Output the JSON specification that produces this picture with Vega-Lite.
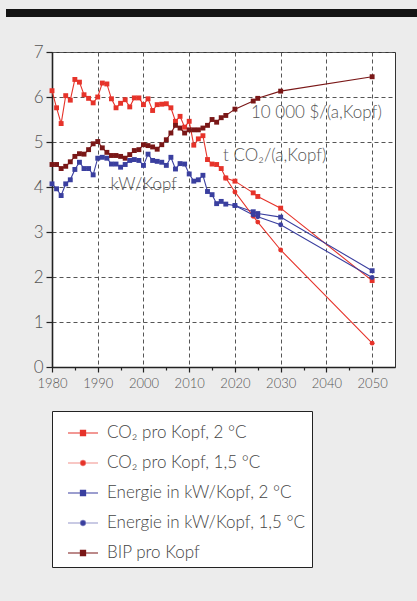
{
  "$schema": "https://vega.github.io/schema/vega-lite/v6.json",
  "background": "#ececec",
  "padding": {"left": 6, "top": 9, "right": 0, "bottom": 33},
  "autosize": {"type": "pad"},
  "spacing": 25,
  "config": {
    "font": "Lato",
    "axis": {"labelFont": "Lato", "labelFontWeight": 300, "labelColor": "#555"},
    "legend": {"labelFont": "Lato"}
  },
  "datasets": {
    "series": [
      {"year": 1980, "co2_2": 6.14, "kw_2": 4.07, "bip": 4.50},
      {"year": 1981, "co2_2": 5.76, "kw_2": 3.96, "bip": 4.50},
      {"year": 1982, "co2_2": 5.41, "kw_2": 3.81, "bip": 4.41},
      {"year": 1983, "co2_2": 6.03, "kw_2": 4.07, "bip": 4.46},
      {"year": 1984, "co2_2": 5.93, "kw_2": 4.16, "bip": 4.56},
      {"year": 1985, "co2_2": 6.39, "kw_2": 4.39, "bip": 4.68},
      {"year": 1986, "co2_2": 6.33, "kw_2": 4.55, "bip": 4.74},
      {"year": 1987, "co2_2": 6.05, "kw_2": 4.41, "bip": 4.73},
      {"year": 1988, "co2_2": 5.97, "kw_2": 4.41, "bip": 4.83},
      {"year": 1989, "co2_2": 5.87, "kw_2": 4.27, "bip": 4.96},
      {"year": 1990, "co2_2": 6.00, "kw_2": 4.64, "bip": 5.01},
      {"year": 1991, "co2_2": 6.31, "kw_2": 4.66, "bip": 4.87},
      {"year": 1992, "co2_2": 6.29, "kw_2": 4.64, "bip": 4.77},
      {"year": 1993, "co2_2": 5.96, "kw_2": 4.51, "bip": 4.70},
      {"year": 1994, "co2_2": 5.76, "kw_2": 4.51, "bip": 4.70},
      {"year": 1995, "co2_2": 5.86, "kw_2": 4.44, "bip": 4.68},
      {"year": 1996, "co2_2": 5.94, "kw_2": 4.50, "bip": 4.64},
      {"year": 1997, "co2_2": 5.78, "kw_2": 4.59, "bip": 4.72},
      {"year": 1998, "co2_2": 5.98, "kw_2": 4.61, "bip": 4.81},
      {"year": 1999, "co2_2": 5.98, "kw_2": 4.59, "bip": 4.83},
      {"year": 2000, "co2_2": 5.83, "kw_2": 4.48, "bip": 4.94},
      {"year": 2001, "co2_2": 5.96, "kw_2": 4.73, "bip": 4.92},
      {"year": 2002, "co2_2": 5.70, "kw_2": 4.59, "bip": 4.89},
      {"year": 2003, "co2_2": 5.83, "kw_2": 4.57, "bip": 4.84},
      {"year": 2004, "co2_2": 5.84, "kw_2": 4.55, "bip": 4.94},
      {"year": 2005, "co2_2": 5.85, "kw_2": 4.48, "bip": 5.05},
      {"year": 2006, "co2_2": 5.76, "kw_2": 4.66, "bip": 5.20},
      {"year": 2007, "co2_2": 5.46, "kw_2": 4.40, "bip": 5.37},
      {"year": 2008, "co2_2": 5.57, "kw_2": 4.52, "bip": 5.31},
      {"year": 2009, "co2_2": 5.33, "kw_2": 4.51, "bip": 5.20},
      {"year": 2010, "co2_2": 5.46, "kw_2": 4.29, "bip": 5.27},
      {"year": 2011, "co2_2": 4.93, "kw_2": 4.13, "bip": 5.27},
      {"year": 2012, "co2_2": 5.07, "kw_2": 4.16, "bip": 5.27},
      {"year": 2013, "co2_2": 5.14, "kw_2": 4.26, "bip": 5.31},
      {"year": 2014, "co2_2": 4.61, "kw_2": 3.90, "bip": 5.37},
      {"year": 2015, "co2_2": 4.51, "kw_2": 3.83, "bip": 5.50},
      {"year": 2016, "co2_2": 4.50, "kw_2": 3.63, "bip": 5.44},
      {"year": 2017, "co2_2": 4.41, "kw_2": 3.68, "bip": 5.54},
      {"year": 2018, "co2_2": 4.20, "co2_15": 4.20, "kw_2": 3.62, "bip": 5.59},
      {"year": 2020, "co2_2": 4.13, "co2_15": 3.89, "kw_2": 3.59, "kw_15": 3.59, "bip": 5.73},
      {"year": 2024, "co2_2": 3.87, "co2_15": 3.35, "kw_2": 3.45, "kw_15": 3.38, "bip": 5.91},
      {"year": 2025, "co2_2": 3.79, "co2_15": 3.22, "kw_2": 3.41, "kw_15": 3.34, "bip": 5.97},
      {"year": 2030, "co2_2": 3.53, "co2_15": 2.60, "kw_2": 3.33, "kw_15": 3.16, "bip": 6.13},
      {"year": 2050, "co2_2": 1.92, "co2_15": 0.53, "kw_2": 2.14, "kw_15": 1.99, "bip": 6.45}
    ],
    "notes": [
      {"year": 1992.8, "value": 4.04, "text": "kW/Kopf"},
      {"year": 2017.4, "value": 4.68, "text": "t CO₂/(a,Kopf)"},
      {"year": 2023.5, "value": 5.64, "text": "10 000 $/(a,Kopf)"}
    ]
  },
  "vconcat": [
    {
      "width": 411,
      "height": 8,
      "view": {"fill": "#141414", "stroke": null},
      "data": {"values": [{}]},
      "mark": {"type": "point", "opacity": 0},
      "encoding": {}
    },
    {
      "spacing": 6,
      "hconcat": [
        {
          "width": 20,
          "height": 10,
          "view": {"fill": null, "stroke": null},
          "data": {"values": [{}]},
          "mark": {"type": "point", "opacity": 0},
          "encoding": {}
        },
        {
          "width": 343,
          "height": 315,
          "view": {"fill": "white", "stroke": "#333", "strokeWidth": 1},
          "encoding": {
            "x": {
              "field": "year", "type": "quantitative",
              "scale": {"domain": [1980, 2055], "nice": false, "zero": false},
              "axis": {
                "title": null,
                "values": [1980, 1985, 1990, 1995, 2000, 2005, 2010, 2015, 2020, 2025, 2030, 2035, 2040, 2045, 2050],
                "format": "d",
                "labelExpr": "datum.value % 10 == 0 ? datum.label : ''",
                "labelFlush": false,
                "labelOverlap": false,
                "labelFontSize": 13,
                "labelPadding": 5,
                "tickSize": {"condition": {"test": "datum.value % 10 == 0", "value": 5}, "value": 3},
                "tickColor": "#222",
                "tickWidth": 1.2,
                "domainColor": "#222",
                "domainWidth": 1.6,
                "grid": true,
                "gridColor": "#555",
                "gridDash": [4, 3],
                "gridWidth": 1,
                "gridOpacity": {"condition": {"test": "datum.value % 10 == 0", "value": 1}, "value": 0}
              }
            },
            "y": {
              "field": "value", "type": "quantitative",
              "scale": {"domain": [0, 7], "nice": false},
              "axis": {
                "title": null,
                "values": [0, 0.5, 1, 1.5, 2, 2.5, 3, 3.5, 4, 4.5, 5, 5.5, 6, 6.5, 7],
                "format": "d",
                "labelExpr": "datum.value % 1 == 0 ? format(datum.value, 'd') : ''",
                "labelFlush": false,
                "labelOverlap": false,
                "labelFontSize": 17,
                "labelPadding": 3,
                "tickSize": {"condition": {"test": "datum.value % 1 == 0", "value": 6}, "value": 3},
                "tickColor": "#222",
                "tickWidth": 1.2,
                "domainColor": "#222",
                "domainWidth": 1.6,
                "grid": true,
                "gridColor": "#555",
                "gridDash": [4, 3],
                "gridWidth": 1,
                "gridOpacity": {"condition": {"test": "datum.value % 1 == 0", "value": 1}, "value": 0}
              }
            }
          },
          "layer": [
            {
              "data": {"name": "series"},
              "transform": [
                {"fold": ["co2_2", "co2_15", "kw_2", "kw_15", "bip"], "as": ["series", "value"]},
                {"filter": "isValid(datum.value)"}
              ],
              "mark": {"type": "line", "strokeWidth": 1.1},
              "encoding": {
                "color": {
                  "field": "series", "type": "nominal",
                  "scale": {"domain": ["co2_2", "co2_15", "kw_2", "kw_15", "bip"], "range": ["#e6332a", "#e6332a", "#3a3f9f", "#3a3f9f", "#7a1717"]},
                  "legend": {
                    "title": null,
                    "orient": "none",
                    "legendX": 46,
                    "legendY": 402,
                    "direction": "vertical",
                    "fillColor": "white",
                    "strokeColor": "#222",
                    "padding": 6,
                    "symbolOffset": 9,
                    "symbolSize": 900,
                    "rowPadding": 6,
                    "labelOffset": 8,
                    "labelFont": "Lato",
                    "labelFontWeight": 300,
                    "labelFontSize": 17,
                    "labelColor": "#444",
                    "labelLimit": 400,
                    "labelExpr": "datum.value == 'co2_2' ? 'CO₂ pro Kopf, 2 °C' : datum.value == 'co2_15' ? 'CO₂ pro Kopf, 1,5 °C' : datum.value == 'kw_2' ? 'Energie in kW/Kopf, 2 °C' : datum.value == 'kw_15' ? 'Energie in kW/Kopf, 1,5 °C' : 'BIP pro Kopf'",
                    "encode": {
                      "symbols": {
                        "update": {
                          "shape": {"signal": "indexof(datum.value, '15') >= 0 ? 'M-1,0L1,0M0.17,0A0.17,0.17,0,1,1,-0.17,0A0.17,0.17,0,1,1,0.17,0Z' : 'M-1,0L1,0M-0.17,-0.17L0.17,-0.17L0.17,0.17L-0.17,0.17Z'"},
                          "fill": {"scale": "color", "field": "value"},
                          "stroke": {"scale": "color", "field": "value"},
                          "strokeWidth": {"value": 1.2},
                          "strokeOpacity": {"signal": "indexof(datum.value, '15') >= 0 ? 0.55 : 1"},
                          "fillOpacity": {"value": 1},
                          "opacity": {"value": 1},
                          "size": {"value": 900}
                        }
                      }
                    }
                  }
                }
              }
            },
            {
              "data": {"name": "series"},
              "transform": [
                {"fold": ["co2_2", "co2_15", "kw_2", "kw_15", "bip"], "as": ["series", "value"]},
                {"filter": "isValid(datum.value) && indexof(datum.series, '15') < 0"}
              ],
              "mark": {"type": "point", "shape": "square", "filled": true, "size": 24, "opacity": 1},
              "encoding": {
                "color": {"field": "series", "type": "nominal"}
              }
            },
            {
              "data": {"name": "series"},
              "transform": [
                {"fold": ["co2_2", "co2_15", "kw_2", "kw_15", "bip"], "as": ["series", "value"]},
                {"filter": "isValid(datum.value) && indexof(datum.series, '15') >= 0"}
              ],
              "mark": {"type": "point", "shape": "circle", "filled": true, "size": 24, "opacity": 1},
              "encoding": {
                "color": {"field": "series", "type": "nominal"}
              }
            },
            {
              "data": {"name": "notes"},
              "mark": {"type": "text", "align": "left", "baseline": "middle", "font": "Lato", "fontWeight": 300, "fontSize": 17, "color": "#555"},
              "encoding": {
                "text": {"field": "text", "type": "nominal"}
              }
            }
          ]
        }
      ]
    }
  ]
}
